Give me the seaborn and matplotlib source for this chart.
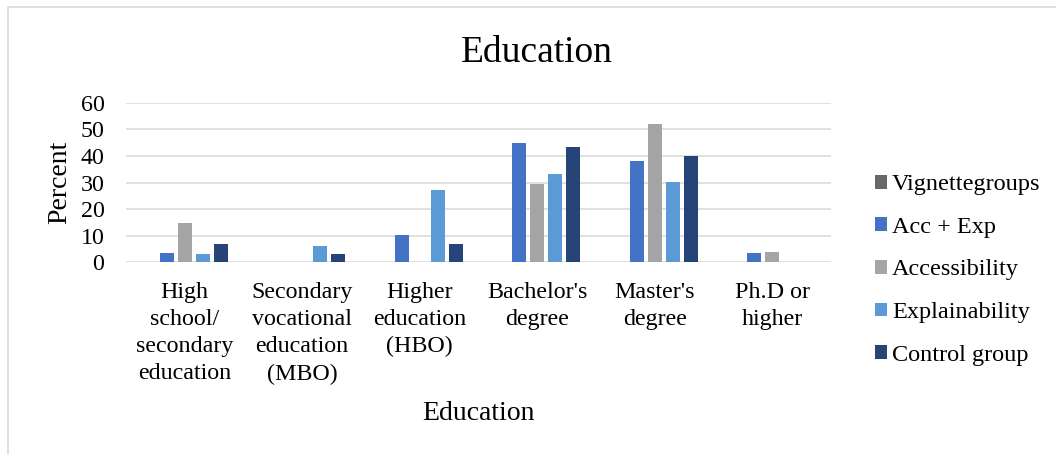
import matplotlib
matplotlib.use("Agg")
import matplotlib.pyplot as plt
from matplotlib.patches import Rectangle
import seaborn as sns
import pandas as pd

# Education level distribution (%) per vignette group
categories = [
    "High\nschool/\nsecondary\neducation",
    "Secondary\nvocational\neducation\n(MBO)",
    "Higher\neducation\n(HBO)",
    "Bachelor's\ndegree",
    "Master's\ndegree",
    "Ph.D or\nhigher",
]
groups = ["Vignettegroups", "Acc + Exp", "Accessibility", "Explainability", "Control group"]
vignettegroups = [0, 0, 0, 0, 0, 0]
acc_exp = [3.4, 0, 10.3, 44.8, 37.9, 3.4]
accessibility = [14.8, 0, 0, 29.6, 51.9, 3.7]
explainability = [3.0, 6.1, 27.3, 33.3, 30.3, 0]
control_group = [6.7, 3.3, 6.7, 43.3, 40.0, 0]
y_ticks = [0, 10, 20, 30, 40, 50, 60]

colors = ["#686868", "#4472C4", "#A5A5A5", "#5B9BD5", "#264478"]

series = [vignettegroups, acc_exp, accessibility, explainability, control_group]
df = pd.DataFrame(
    [(c, g, v) for g, vals in zip(groups, series) for c, v in zip(categories, vals)],
    columns=["Education", "Group", "Percent"],
)

plt.rcParams["font.family"] = ["Liberation Serif", "DejaVu Serif"]

W, H = 1056, 454
fig = plt.figure(figsize=(W / 100, H / 100), dpi=100)
ax = fig.add_axes([126 / W, 1 - 262.3 / H, (831 - 126) / W, (262.3 - 102.7) / H])

sns.barplot(
    data=df, x="Education", y="Percent", hue="Group",
    order=categories, hue_order=groups, palette=colors,
    width=0.766, linewidth=0, saturation=1, ax=ax, legend=True,
)

# narrow each bar inside its slot to leave small gaps between series
for p in ax.patches:
    w = p.get_width()
    nw = w * 0.76
    p.set_x(p.get_x() + (w - nw) / 2)
    p.set_width(nw)

ax.set_ylim(0, 60)
ax.set_yticks(y_ticks)
ax.set_xlim(-0.5, len(categories) - 0.5)
ax.yaxis.grid(True, color="#d9d9d9", linewidth=1.1)
ax.set_axisbelow(True)
for s in ax.spines.values():
    s.set_visible(False)
ax.tick_params(axis="both", length=0, labelsize=17.3)
ax.tick_params(axis="y", pad=15.5)
ax.tick_params(axis="x", pad=14)
for t in ax.get_xticklabels():
    t.set_linespacing(1.39)

ax.set_xlabel("Education", fontsize=20)
ax.xaxis.set_label_coords(0.5, (262.3 - 420) / 159.6)
ax.xaxis.label.set_va("baseline")
ax.set_ylabel("Percent", fontsize=20)
ax.yaxis.set_label_coords((60 - 126) / 705, (262.3 - 182) / 159.6)
ax.yaxis.label.set_va("center")

fig.text(537 / W, 1 - 61.7 / H, "Education", fontsize=27, ha="center", va="baseline")

handles, labels = ax.get_legend_handles_labels()
ax.get_legend().remove()
fig.legend(
    handles, labels, loc="center left", bbox_to_anchor=(875 / W, 1 - 270 / H),
    frameon=False, fontsize=17.5, borderpad=0, borderaxespad=0,
    handlelength=0.5, handleheight=0.5, handletextpad=0.2, labelspacing=0.89,
)

# outer chart border
fig.add_artist(Rectangle((7.5 / W, -0.2), 2, 1.2 - 6.5 / H, transform=fig.transFigure,
                         fill=False, edgecolor="#d9d9d9", linewidth=1.2))

fig.savefig("out.png", dpi=100, facecolor="white")
